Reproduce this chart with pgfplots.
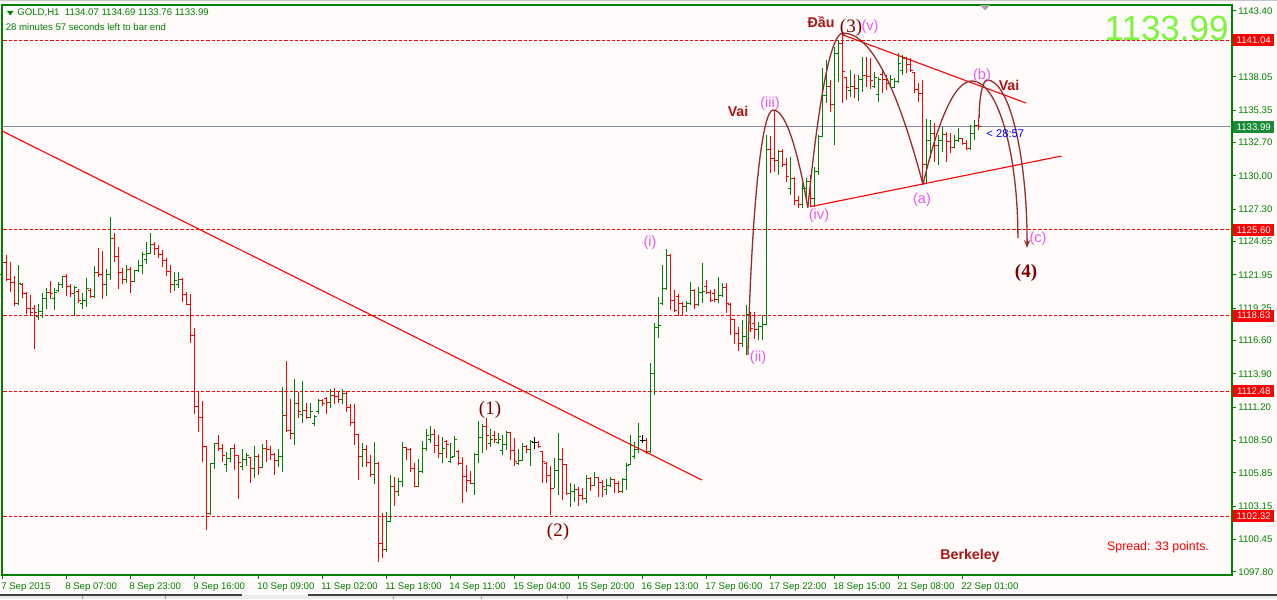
\documentclass[border=0pt]{standalone}
\usepackage{fontspec}
\setmainfont{Liberation Sans}
\newfontfamily\serifnum{Liberation Serif}
\usepackage{pgfplots}
\pgfplotsset{compat=1.18}
\usepackage{pgfplotstable}
\usetikzlibrary{arrows.meta}
\definecolor{bgc}{RGB}{255,251,250}
\definecolor{mtg}{RGB}{0,128,0}
\definecolor{upc}{RGB}{0,128,0}
\definecolor{dnc}{RGB}{255,0,0}
\definecolor{boxg}{RGB}{25,140,55}
\definecolor{bidc}{RGB}{128,138,155}
\definecolor{vio}{RGB}{235,90,235}
\definecolor{arcc}{RGB}{150,45,45}
\definecolor{maroonc}{RGB}{120,0,0}
\definecolor{fireb}{RGB}{175,20,20}
\definecolor{limec}{RGB}{125,245,60}
\newcommand\ui{\fontsize{4.8}{5.5}\selectfont}
\pgfdeclareplotmark{tickL}{\pgfpathmoveto{\pgfqpoint{-1.1pt}{0pt}}\pgfpathlineto{\pgfqpoint{0pt}{0pt}}\pgfusepathqstroke}
\pgfdeclareplotmark{tickR}{\pgfpathmoveto{\pgfqpoint{0pt}{0pt}}\pgfpathlineto{\pgfqpoint{1.1pt}{0pt}}\pgfusepathqstroke}

\pgfplotstableread{
i o h l c
0 1122.00 1123.43 1121.45 1122.97
4 1119.64 1122.75 1119.50 1121.26
9 1118.60 1119.55 1118.31 1118.96
10 1118.96 1120.45 1118.47 1120.04
11 1120.04 1120.85 1119.17 1120.50
13 1120.00 1120.91 1119.12 1120.53
14 1120.70 1121.34 1120.58 1121.18
15 1121.18 1121.88 1120.91 1121.83
18 1120.45 1121.04 1118.58 1120.91
20 1119.60 1120.45 1119.15 1119.88
21 1119.88 1121.70 1119.36 1120.85
23 1120.18 1122.67 1120.10 1122.13
26 1121.13 1122.43 1120.26 1121.99
27 1121.99 1126.65 1121.53 1124.92
31 1121.53 1122.75 1121.32 1122.35
33 1121.40 1122.35 1121.40 1122.32
34 1122.32 1123.16 1122.21 1122.70
35 1122.70 1123.84 1122.02 1123.62
36 1123.20 1124.59 1122.86 1123.70
37 1123.70 1125.38 1123.62 1124.43
43 1121.13 1122.21 1120.64 1121.45
44 1121.20 1122.21 1120.91 1121.53
52 1102.54 1106.68 1102.43 1106.63
53 1106.63 1108.31 1106.14 1108.23
56 1106.50 1107.52 1105.90 1107.03
57 1107.03 1107.90 1106.76 1107.85
60 1106.40 1107.77 1106.06 1106.90
61 1106.90 1107.44 1106.38 1107.25
63 1106.17 1108.04 1105.41 1107.22
65 1106.30 1108.17 1106.22 1107.82
69 1106.82 1107.82 1106.30 1107.22
70 1107.22 1112.86 1105.95 1110.53
73 1109.01 1113.48 1108.14 1111.45
75 1110.60 1113.35 1109.93 1110.91
77 1110.37 1111.50 1110.28 1110.83
78 1109.90 1110.56 1109.66 1110.42
79 1110.80 1111.86 1110.64 1111.77
82 1111.56 1112.64 1111.15 1112.18
85 1111.83 1112.67 1111.42 1112.32
90 1107.17 1108.25 1106.35 1107.76
93 1105.68 1108.39 1104.95 1106.63
96 1099.58 1102.64 1099.44 1101.88
97 1101.88 1105.68 1101.88 1104.78
99 1104.32 1105.41 1103.97 1105.14
100 1105.14 1108.33 1104.73 1107.93
104 1104.78 1106.95 1104.67 1105.95
105 1105.95 1108.47 1105.81 1107.85
106 1107.85 1109.39 1107.63 1108.85
107 1108.60 1109.66 1108.25 1108.93
110 1107.44 1108.74 1106.68 1107.85
112 1106.80 1108.31 1106.63 1107.11
113 1107.20 1108.85 1107.11 1108.58
118 1105.00 1107.49 1104.05 1107.38
119 1107.38 1110.09 1106.63 1108.74
120 1108.74 1109.82 1107.49 1109.61
122 1108.20 1109.39 1107.93 1108.58
124 1108.30 1109.06 1108.19 1108.57
125 1107.70 1108.93 1107.30 1108.19
126 1108.19 1109.28 1107.71 1109.12
129 1106.60 1107.76 1106.49 1106.89
130 1106.89 1108.25 1106.84 1108.03
132 1107.71 1108.52 1106.43 1108.38
138 1104.59 1107.03 1104.59 1106.03
139 1106.03 1109.12 1104.05 1106.95
142 1104.18 1105.05 1103.05 1104.32
143 1104.32 1104.94 1103.51 1104.51
146 1103.78 1105.67 1103.37 1105.38
148 1104.86 1105.95 1104.78 1105.48
151 1104.50 1105.32 1104.05 1104.86
152 1104.86 1105.48 1104.67 1105.27
155 1104.32 1105.40 1104.18 1105.32
156 1105.32 1106.62 1104.45 1106.46
157 1106.55 1108.93 1106.49 1108.11
158 1107.20 1108.38 1106.95 1107.71
159 1107.71 1109.93 1107.49 1108.79
162 1107.57 1114.75 1107.44 1113.94
163 1113.94 1118.00 1112.18 1117.68
164 1117.68 1120.17 1116.79 1117.87
165 1119.60 1122.75 1119.50 1120.85
166 1120.85 1124.02 1120.71 1123.56
171 1119.41 1119.85 1118.95 1119.63
172 1119.63 1121.39 1119.50 1120.71
174 1119.50 1120.99 1119.41 1120.50
175 1120.50 1122.88 1119.63 1120.58
179 1119.96 1121.74 1119.63 1120.31
180 1120.31 1121.31 1120.12 1120.93
185 1116.38 1118.28 1116.05 1116.92
186 1116.92 1119.50 1115.43 1118.74
189 1117.54 1118.14 1116.65 1117.73
190 1117.73 1118.68 1116.65 1117.92
191 1117.92 1133.32 1117.87 1132.10
194 1131.28 1132.10 1130.06 1131.96
197 1129.00 1131.56 1128.44 1129.79
200 1127.63 1129.39 1127.35 1128.98
201 1128.98 1129.79 1128.03 1129.52
203 1128.17 1130.74 1127.49 1130.34
204 1130.34 1133.32 1130.06 1133.18
205 1133.18 1138.74 1133.18 1136.57
206 1136.57 1139.41 1135.89 1137.25
208 1135.76 1140.50 1132.50 1139.96
209 1139.96 1141.04 1137.65 1140.77
212 1136.90 1138.60 1136.43 1137.25
214 1137.11 1138.19 1136.08 1137.87
215 1137.87 1139.69 1136.84 1138.19
218 1137.30 1138.47 1137.11 1138.00
219 1136.60 1138.06 1135.97 1137.87
222 1137.52 1138.19 1137.11 1137.79
223 1137.20 1137.92 1137.11 1137.70
224 1137.70 1139.96 1137.52 1139.14
225 1138.60 1139.82 1138.19 1139.50
231 1130.88 1134.62 1129.31 1132.91
232 1132.91 1134.54 1131.42 1133.45
234 1132.50 1133.32 1130.88 1132.91
235 1132.91 1133.99 1131.96 1133.32
238 1132.29 1133.32 1132.23 1132.91
239 1132.91 1133.86 1132.77 1133.05
242 1132.23 1134.13 1132.10 1133.45
243 1133.45 1134.54 1132.91 1134.07
}\upbars

\pgfplotstableread{
i o h l c
1 1122.97 1123.56 1121.45 1121.61
2 1121.61 1123.02 1120.58 1121.34
3 1121.34 1121.88 1119.39 1119.64
5 1121.20 1121.26 1120.10 1120.45
6 1120.45 1120.53 1118.80 1119.23
7 1119.23 1120.31 1118.69 1118.90
8 1119.20 1119.50 1115.92 1118.90
12 1120.50 1121.45 1119.99 1120.42
16 1121.83 1121.99 1120.26 1120.99
17 1120.99 1121.23 1120.18 1120.45
19 1120.60 1120.80 1119.69 1119.88
22 1120.70 1120.85 1120.04 1120.18
24 1122.13 1124.11 1121.80 1121.99
25 1121.99 1123.92 1119.99 1121.13
28 1124.92 1125.33 1123.02 1123.43
29 1123.43 1124.24 1120.80 1122.16
30 1122.16 1122.54 1121.21 1121.53
32 1122.35 1122.62 1120.48 1121.40
38 1124.43 1124.59 1123.56 1124.05
39 1124.05 1124.38 1123.29 1123.62
40 1123.62 1123.97 1122.62 1123.08
41 1123.08 1123.29 1121.88 1122.26
42 1122.26 1122.75 1120.50 1121.13
45 1121.53 1121.67 1119.77 1120.37
46 1120.37 1120.53 1119.50 1119.55
47 1119.55 1120.37 1116.38 1116.98
48 1116.98 1117.60 1110.61 1111.23
49 1111.23 1112.54 1109.20 1110.39
50 1110.39 1111.70 1106.71 1107.96
51 1107.96 1108.06 1101.18 1102.54
54 1108.23 1108.93 1107.63 1107.79
55 1107.79 1108.17 1106.71 1107.25
58 1107.85 1108.17 1106.11 1107.25
59 1107.25 1107.30 1103.73 1106.68
62 1107.10 1107.17 1105.05 1106.17
64 1107.22 1107.38 1105.68 1106.30
66 1107.82 1108.52 1106.76 1107.71
67 1107.71 1108.04 1106.90 1107.38
68 1107.38 1107.44 1105.70 1106.82
71 1110.53 1114.95 1109.20 1109.28
72 1109.28 1111.83 1108.58 1109.01
74 1111.45 1112.45 1110.34 1110.83
76 1110.91 1111.56 1110.26 1110.37
80 1111.77 1111.83 1111.29 1111.50
81 1111.90 1112.05 1110.64 1111.56
83 1112.18 1112.78 1111.45 1112.05
84 1112.05 1112.51 1111.50 1111.83
86 1112.32 1112.51 1110.83 1111.15
87 1111.15 1111.45 1109.66 1109.93
88 1109.93 1111.45 1108.12 1108.93
89 1108.93 1109.01 1105.27 1107.17
91 1107.76 1108.12 1106.35 1106.68
92 1106.68 1107.30 1105.54 1105.68
94 1106.63 1106.76 1098.60 1100.12
95 1100.12 1102.56 1098.90 1099.58
98 1104.78 1105.49 1103.16 1104.32
101 1107.93 1107.98 1106.90 1107.76
102 1107.76 1107.85 1105.95 1106.22
103 1106.22 1106.63 1104.67 1104.78
108 1108.93 1109.39 1107.49 1108.04
109 1108.04 1108.93 1107.03 1107.44
111 1108.40 1108.52 1107.03 1108.12
114 1107.60 1107.71 1106.49 1106.63
115 1106.63 1107.17 1103.43 1105.54
116 1105.54 1106.49 1104.32 1105.19
117 1105.19 1106.03 1104.95 1105.00
121 1109.61 1110.28 1107.71 1108.85
123 1108.90 1109.28 1108.25 1108.58
127 1109.12 1109.20 1106.89 1107.65
128 1107.65 1108.66 1106.41 1106.76
131 1108.03 1108.11 1107.44 1107.71
134 1108.33 1108.41 1107.84 1108.03
135 1107.60 1107.65 1105.00 1106.81
136 1106.60 1106.76 1105.00 1105.67
137 1105.67 1106.41 1102.40 1104.59
140 1106.95 1107.84 1103.64 1106.57
141 1106.50 1106.57 1104.05 1104.18
144 1104.51 1104.73 1103.15 1104.05
145 1104.05 1104.59 1103.64 1103.78
147 1105.38 1105.54 1104.40 1104.86
149 1105.48 1105.54 1103.91 1105.05
150 1105.05 1105.27 1103.86 1104.78
153 1105.27 1105.32 1104.24 1105.00
154 1105.00 1105.21 1104.18 1104.32
161 1108.52 1108.66 1107.38 1107.57
167 1123.56 1123.64 1119.09 1119.90
168 1119.90 1120.71 1118.95 1119.09
169 1120.20 1120.39 1118.60 1119.58
170 1119.58 1119.77 1118.60 1119.41
173 1120.71 1120.77 1119.14 1119.50
176 1121.00 1121.53 1120.39 1120.50
177 1120.50 1120.71 1119.77 1119.90
178 1120.40 1120.77 1119.77 1119.96
181 1120.93 1121.26 1118.82 1119.63
182 1119.50 1119.63 1117.06 1118.28
183 1118.28 1118.33 1116.32 1117.14
184 1117.14 1117.68 1115.78 1116.38
187 1118.74 1118.95 1117.33 1117.60
188 1118.00 1118.90 1116.73 1117.54
192 1132.10 1133.26 1130.20 1131.42
193 1131.42 1135.35 1130.34 1131.28
195 1131.96 1132.18 1130.74 1130.93
196 1130.93 1131.47 1129.52 1129.93
198 1129.79 1129.93 1127.63 1128.03
199 1128.03 1128.38 1127.41 1127.63
202 1129.52 1130.06 1127.49 1128.17
207 1137.25 1137.79 1135.21 1135.76
210 1140.77 1141.58 1135.89 1138.47
211 1138.00 1138.06 1136.16 1137.17
213 1137.25 1138.25 1136.35 1137.11
216 1138.19 1139.69 1137.25 1138.06
217 1138.06 1139.60 1137.03 1137.71
220 1138.20 1138.60 1136.70 1137.79
221 1137.79 1138.19 1136.98 1137.52
226 1139.50 1139.69 1138.33 1139.01
227 1139.01 1139.55 1138.47 1138.60
228 1138.40 1138.47 1136.70 1136.98
229 1136.98 1137.52 1136.03 1136.70
230 1136.70 1137.79 1129.25 1130.88
233 1133.45 1134.27 1131.15 1132.50
236 1133.32 1133.59 1131.15 1132.77
237 1132.77 1133.45 1131.83 1132.29
240 1133.05 1133.10 1132.50 1132.64
241 1132.64 1132.91 1132.10 1132.23
244 1134.07 1134.69 1133.76 1133.99
}\dnbars

\pgfplotstableread{
i o h l c
133 1108.33 1108.79 1107.79 1108.33
160 1108.52 1108.93 1108.25 1108.52
}\dojibars

\begin{document}
\begin{tikzpicture}
\useasboundingbox (0,0) rectangle (638.5pt,299.5pt);
\fill[bgc] (0,0) rectangle (638.5pt,299.5pt);
\begin{axis}[
  at={(1pt,12pt)}, anchor=south west,
  width=615pt, height=285pt, scale only axis,
  xmin=-0.075, xmax=307.425, ymin=1097.546, ymax=1143.888,
  axis background/.style={fill=bgc},
  axis line style={draw=mtg, line width=0.6pt},
  tick align=outside, major tick length=2pt,
  tick style={draw=mtg, line width=0.5pt},
  xtick pos=bottom, ytick pos=right, yticklabel pos=right,
  xtick={0,16,...,240},
  xticklabels={7 Sep 2015,8 Sep 07:00,8 Sep 23:00,9 Sep 16:00,10 Sep 09:00,11 Sep 02:00,11 Sep 18:00,14 Sep 11:00,15 Sep 04:00,15 Sep 20:00,16 Sep 13:00,17 Sep 06:00,17 Sep 22:00,18 Sep 15:00,21 Sep 08:00,22 Sep 01:00},
  xticklabel style={font=\ui, text=mtg, anchor=north west, inner sep=0pt, xshift=-0.7pt, yshift=-1.5pt},
  ytick={1097.80,1100.45,1103.15,1105.85,1108.50,1111.20,1113.90,1116.60,1119.25,1121.95,1124.65,1127.30,1130.00,1132.70,1135.35,1138.05,1143.40},
  yticklabels={1097.80,1100.45,1103.15,1105.85,1108.50,1111.20,1113.90,1116.60,1119.25,1121.95,1124.65,1127.30,1130.00,1132.70,1135.35,1138.05,1143.40},
  yticklabel style={font=\ui, text=mtg, anchor=west, inner sep=0pt, xshift=1pt},
]
% horizontal levels
\addplot[forget plot, bidc, line width=0.5pt] coordinates {(-1,1133.99) (310,1133.99)};
\addplot[forget plot, red, line width=0.5pt, dash pattern=on 1.6pt off 1pt] coordinates {(-1,1141.04) (310,1141.04)};
\addplot[forget plot, red, line width=0.5pt, dash pattern=on 1.6pt off 1pt] coordinates {(-1,1125.60) (310,1125.60)};
\addplot[forget plot, red, line width=0.5pt, dash pattern=on 1.6pt off 1pt] coordinates {(-1,1118.63) (310,1118.63)};
\addplot[forget plot, red, line width=0.5pt, dash pattern=on 1.6pt off 1pt] coordinates {(-1,1112.48) (310,1112.48)};
\addplot[forget plot, red, line width=0.5pt, dash pattern=on 1.6pt off 1pt] coordinates {(-1,1102.32) (310,1102.32)};
% bars: high-low ranges
\addplot[forget plot, draw=none, mark=none, error bars/.cd, y dir=plus, y explicit, error mark=none, error bar style={draw=upc, solid, line width=0.6pt}] table[x=i, y=l, y error plus expr=\thisrow{h}-\thisrow{l}] {\upbars};
\addplot[forget plot, draw=none, mark=none, error bars/.cd, y dir=plus, y explicit, error mark=none, error bar style={draw=dnc, solid, line width=0.6pt}] table[x=i, y=l, y error plus expr=\thisrow{h}-\thisrow{l}] {\dnbars};
\addplot[forget plot, draw=none, mark=none, error bars/.cd, y dir=plus, y explicit, error mark=none, error bar style={draw=black, solid, line width=0.6pt}] table[x=i, y=l, y error plus expr=\thisrow{h}-\thisrow{l}] {\dojibars};
% open / close ticks
\addplot[forget plot, only marks, mark=tickL, upc, mark options={line width=0.5pt}] table[x=i, y=o] {\upbars};
\addplot[forget plot, only marks, mark=tickR, upc, mark options={line width=0.5pt}] table[x=i, y=c] {\upbars};
\addplot[forget plot, only marks, mark=tickL, dnc, mark options={line width=0.5pt}] table[x=i, y=o] {\dnbars};
\addplot[forget plot, only marks, mark=tickR, dnc, mark options={line width=0.5pt}] table[x=i, y=c] {\dnbars};
\addplot[forget plot, only marks, mark=tickL, black, mark options={line width=0.5pt}] table[x=i, y=o] {\dojibars};
\addplot[forget plot, only marks, mark=tickR, black, mark options={line width=0.5pt}] table[x=i, y=c] {\dojibars};
% trendlines
\addplot[forget plot, red, line width=0.55pt] coordinates {(-0.575,1133.73) (174.9,1105.27)};
\addplot[forget plot, red, line width=0.55pt] coordinates {(210.2,1141.45) (255.9,1135.92)};
\addplot[forget plot, red, line width=0.55pt] coordinates {(202.0,1127.49) (264.8,1131.61)};
% wave arcs
\draw[arcc, line width=0.65pt] (axis cs:186.4,1115.43) .. controls (axis cs:187.35,1127.38) and (axis cs:189.87,1135.35) .. (axis cs:192.7,1135.35) .. controls (axis cs:195.60,1135.35) and (axis cs:198.50,1132.69) .. (axis cs:201.4,1127.38);
\draw[arcc, line width=0.65pt] (axis cs:201.4,1127.47) .. controls (axis cs:204.33,1136.90) and (axis cs:207.27,1141.61) .. (axis cs:210.2,1141.61) .. controls (axis cs:216.87,1141.61) and (axis cs:223.53,1137.49) .. (axis cs:230.2,1129.25);
\draw[arcc, line width=0.65pt] (axis cs:230.2,1129.33) .. controls (axis cs:234.27,1134.92) and (axis cs:238.33,1137.71) .. (axis cs:242.4,1137.71) .. controls (axis cs:248.75,1137.71) and (axis cs:253.9,1131.99) .. (axis cs:253.9,1124.94);
\draw[arcc, line width=0.65pt, -{Stealth[length=4pt,width=3pt]}] (axis cs:244.2,1134.70) .. controls (axis cs:244.2,1136.41) and (axis cs:245.1,1137.79) .. (axis cs:246.2,1137.79) .. controls (axis cs:251.72,1137.79) and (axis cs:256.2,1131.67) .. (axis cs:256.2,1124.13);
% anchors for right-hand price boxes
\coordinate (P1) at (axis cs:307.425,1141.04);
\coordinate (P2) at (axis cs:307.425,1125.60);
\coordinate (P3) at (axis cs:307.425,1118.63);
\coordinate (P4) at (axis cs:307.425,1112.48);
\coordinate (P5) at (axis cs:307.425,1102.32);
\coordinate (PB) at (axis cs:307.425,1133.99);
\end{axis}
\tikzset{pbox/.style={anchor=west, inner sep=0pt, minimum width=20.5pt, minimum height=6pt, font=\ui, text=white}}
\node[pbox, fill=red] at ([xshift=0.4pt]P1) {1141.04};
\node[pbox, fill=red] at ([xshift=0.4pt]P2) {1125.60};
\node[pbox, fill=red] at ([xshift=0.4pt]P3) {1118.63};
\node[pbox, fill=red] at ([xshift=0.4pt]P4) {1112.48};
\node[pbox, fill=red] at ([xshift=0.4pt]P5) {1102.32};
\node[pbox, fill=boxg] at ([xshift=0.4pt]PB) {1133.99};
\begin{scope}[x=0.5pt, y=-0.5pt, yshift=299.5pt]
  % window chrome
  \fill[gray!45] (0,0) rectangle (1277,1.5);
  \fill[black!8] (0,594.5) rectangle (1277,599);
  \draw[black!75, line width=0.6pt] (0,595) -- (242,595);
  \draw[black!75, line width=0.6pt] (308,595) -- (1277,595);
  \draw[black!40, line width=0.4pt] (82,596) -- (82,599) (165,596) -- (165,599) (393,596) -- (393,599) (481,596) -- (481,599) (567,596) -- (567,599);
  \fill[gray!70] (980,5) -- (990,5) -- (985,10.5) -- cycle;
  % header
  \fill[mtg] (7,11) -- (13.5,11) -- (10.25,15.5) -- cycle;
  \node[anchor=west, inner sep=0pt, font=\ui, text=mtg] at (17,13) {GOLD,H1\ \ 1134.07 1134.69 1133.76 1133.99};
  \node[anchor=west, inner sep=0pt, font=\ui, text=mtg] at (5.5,27) {28 minutes 57 seconds left to bar end};
  \node[anchor=east, inner sep=0pt, font=\fontsize{17.5}{18}\selectfont, text=limec] at (1229,28) {1133.99};
  % wave labels
  \begin{scope}[every node/.style={inner sep=0pt, font=\fontsize{7.3}{8}\selectfont, text=vio}]
    \node at (650,243) {(i)};
    \node at (758,358) {(ii)};
    \node at (770,104) {(iii)};
    \node at (819,216) {(iv)};
    \node at (870,27) {(v)};
    \node at (922,200) {(a)};
    \node at (982,76) {(b)};
    \node at (1038,239) {(c)};
  \end{scope}
  \begin{scope}[every node/.style={inner sep=0pt, text=maroonc}]
    \node[font=\serifnum\fontsize{9.5}{10}\selectfont] at (490,410) {(1)};
    \node[font=\serifnum\fontsize{9.5}{10}\selectfont] at (558,532) {(2)};
    \node[font=\serifnum\fontsize{9.5}{10}\selectfont] at (851,28) {(3)};
    \node[font=\serifnum\bfseries\fontsize{9.5}{10}\selectfont] at (1026,273) {(4)};
  \end{scope}
  \begin{scope}[every node/.style={inner sep=0pt, text=fireb, font=\bfseries\fontsize{7.1}{8}\selectfont}]
    \node at (738,111) {Vai};
    \node at (821,22) {Đầu};
    \node at (1009,85) {Vai};
    \node at (970,556) {Berkeley};
  \end{scope}
  \node[inner sep=0pt, text=red, font=\fontsize{6.2}{7}\selectfont] at (1158,547) {Spread: 33 points.};
  \node[anchor=west, inner sep=0pt, text=blue, font=\fontsize{5.6}{6}\selectfont] at (986,134) {< 28:57};
\end{scope}
\end{tikzpicture}
\end{document}
